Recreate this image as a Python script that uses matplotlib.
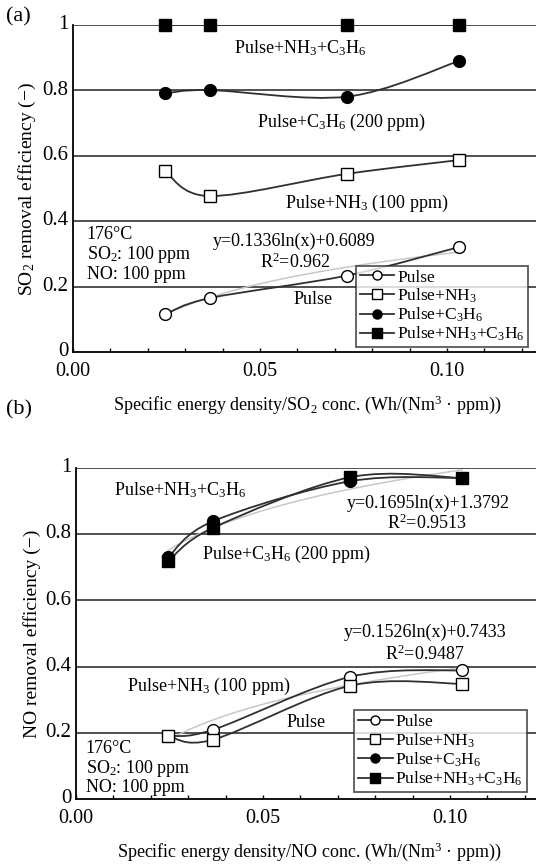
import numpy as np
import matplotlib
matplotlib.use("Agg")
import matplotlib.pyplot as plt
from matplotlib.path import Path
from matplotlib.patches import PathPatch
from matplotlib.lines import Line2D
from matplotlib.ticker import MultipleLocator, FuncFormatter
from matplotlib.transforms import ScaledTranslation

plt.rcParams["font.family"] = ["Liberation Serif", "DejaVu Serif"]
plt.rcParams["mathtext.fontset"] = "custom"
plt.rcParams["mathtext.rm"] = "Liberation Serif"
plt.rcParams["mathtext.it"] = "Liberation Serif:italic"
plt.rcParams["mathtext.bf"] = "Liberation Serif:bold"

# specific energy density / inlet conc. (same for both panels)
energy = [0.0246, 0.0366, 0.0733, 0.1032]

# (a) SO2 removal efficiency
so2_pulse = [0.115, 0.165, 0.234, 0.321]
so2_nh3 = [0.553, 0.477, 0.545, 0.587]
so2_c3h6 = [0.791, 0.801, 0.781, 0.890]
so2_nh3_c3h6 = [1.0, 1.0, 1.0, 1.0]
so2_fit = (0.1336, 0.6089)

# (b) NO removal efficiency
no_pulse = [0.191, 0.209, 0.369, 0.389]
no_nh3 = [0.191, 0.179, 0.342, 0.348]
no_c3h6 = [0.730, 0.839, 0.960, 0.970]
no_nh3_c3h6 = [0.718, 0.819, 0.972, 0.970]
no_fit_c3h6 = (0.1695, 1.3792)
no_fit_pulse = (0.1526, 0.7433)

series_names = ["Pulse", "Pulse+NH$_3$", "Pulse+C$_3$H$_6$",
                "Pulse+NH$_3$+C$_3$H$_6$"]
series_style = [
    dict(marker="o", mfc="white", ms=8.5),
    dict(marker="s", mfc="white", ms=8.5),
    dict(marker="o", mfc="black", ms=8.5),
    dict(marker="s", mfc="black", ms=8.5),
]

LINE_COLOR = "#303030"
FIT_COLOR = "#c8c8c8"
TXT = 13


def smooth_path(x, y):
    # spreadsheet-style smoothed line: cubic Bezier segments through points
    pts = np.column_stack([x, y]).astype(float)
    ext = np.vstack([pts[0], pts, pts[-1]])
    verts = [pts[0]]
    codes = [Path.MOVETO]
    for i in range(len(pts) - 1):
        p0, p1, p2, p3 = ext[i], ext[i + 1], ext[i + 2], ext[i + 3]
        verts += [p1 + (p2 - p0) / 6, p2 - (p3 - p1) / 6, p2]
        codes += [Path.CURVE4] * 3
    return Path(verts, codes)


def draw_series(ax, y, style):
    ax.add_patch(PathPatch(smooth_path(energy, y), fc="none",
                           ec=LINE_COLOR, lw=1.3, zorder=3))
    ax.plot(energy, y, ls="none", mec="black", mew=1.0, zorder=4,
            clip_on=False, **style)


def draw_fit(ax, coef):
    xs = np.linspace(energy[0], energy[-1], 80)
    ax.plot(xs, coef[0] * np.log(xs) + coef[1], color=FIT_COLOR,
            lw=1.1, zorder=2)


def setup_axes(ax, ylabel, xlabel):
    ax.set_xlim(0, 0.125)
    ax.set_ylim(0, 1)
    for yv in [0.2, 0.4, 0.6, 0.8, 1.0]:
        ax.axhline(yv, color="#202020", lw=1.1, zorder=1)
    for side in ["top", "right"]:
        ax.spines[side].set_visible(False)
    ax.spines["left"].set_linewidth(1.3)
    ax.spines["bottom"].set_linewidth(1.3)
    ax.xaxis.set_major_locator(MultipleLocator(0.05))
    ax.xaxis.set_minor_locator(MultipleLocator(0.01))
    ax.xaxis.set_major_formatter(FuncFormatter(lambda v, p: f"{v:.2f}"))
    ax.yaxis.set_major_locator(MultipleLocator(0.2))
    ax.yaxis.set_major_formatter(FuncFormatter(lambda v, p: f"{v:g}"))
    ax.tick_params(axis="x", which="both", direction="in", length=3,
                   width=1, labelsize=14.5, pad=7)
    ax.tick_params(axis="y", length=0, labelsize=15, pad=3.5)
    # nudge y tick labels up a touch so "0" clears the x labels
    shift = ScaledTranslation(0, 2 / 72, fig.dpi_scale_trans)
    for lab in ax.get_yticklabels():
        lab.set_transform(lab.get_transform() + shift)
    ax.set_ylabel(ylabel, fontsize=TXT + 1, labelpad=3)
    ax.set_xlabel(xlabel, fontsize=TXT, labelpad=9)


def add_legend(ax, anchor):
    handles = [Line2D([], [], color=LINE_COLOR, lw=1.3, mec="black",
                      mew=1.0, **dict(st, ms=6.5))
               for st in series_style]
    leg = ax.legend(handles, series_names, loc="lower left",
                    bbox_to_anchor=anchor, fontsize=12.5, frameon=True,
                    fancybox=False, handlelength=2.0, handletextpad=0.15,
                    labelspacing=0.05, borderpad=0.22, borderaxespad=0)
    leg.get_frame().set_edgecolor("#303030")
    leg.get_frame().set_linewidth(1.3)
    leg.set_zorder(6)


fig = plt.figure(figsize=(5.36, 8.66), dpi=100)

# ---- (a) SO2 ----
ax1 = fig.add_axes([0.1362, 0.5935, 0.8722, 0.3776])
setup_axes(ax1, "SO$_2$ removal efficiency (−)",
           "Specific energy density/SO$_2$ conc. (Wh/(Nm$^3$ · ppm))")
draw_fit(ax1, so2_fit)
for ys, st in zip([so2_pulse, so2_nh3, so2_c3h6, so2_nh3_c3h6], series_style):
    draw_series(ax1, ys, st)

ax1.text(0.0607, 0.930, "Pulse+NH$_3$+C$_3$H$_6$", fontsize=TXT,
         ha="center", va="center")
ax1.text(0.0717, 0.703, "Pulse+C$_3$H$_6$ (200 ppm)", fontsize=TXT,
         ha="center", va="center")
ax1.text(0.0786, 0.453, "Pulse+NH$_3$ (100 ppm)", fontsize=TXT,
         ha="center", va="center")
ax1.text(0.0591, 0.339, "y=0.1336ln(x)+0.6089", fontsize=TXT,
         ha="center", va="center")
ax1.text(0.0593, 0.275, "R$^2$=0.962", fontsize=TXT, ha="center",
         va="center")
ax1.text(0.0642, 0.162, "Pulse", fontsize=TXT, ha="center", va="center")
ax1.text(0.0037, 0.385, "176°C\nSO$_2$: 100 ppm\nNO: 100 ppm",
         fontsize=TXT, ha="left", va="top", linespacing=1.05)
add_legend(ax1, (0.605, 0.015))
fig.text(0.012, 0.981, "(a)", fontsize=TXT + 3, ha="left", va="center")

# ---- (b) NO ----
ax2 = fig.add_axes([0.1418, 0.0774, 0.8722, 0.3822])
setup_axes(ax2, "NO removal efficiency (−)",
           "Specific energy density/NO conc. (Wh/(Nm$^3$ · ppm))")
draw_fit(ax2, no_fit_c3h6)
draw_fit(ax2, no_fit_pulse)
for ys, st in zip([no_pulse, no_nh3, no_c3h6, no_nh3_c3h6], series_style):
    draw_series(ax2, ys, st)

ax2.text(0.0278, 0.934, "Pulse+NH$_3$+C$_3$H$_6$", fontsize=TXT,
         ha="center", va="center")
ax2.text(0.0941, 0.894, "y=0.1695ln(x)+1.3792", fontsize=TXT,
         ha="center", va="center")
ax2.text(0.0939, 0.834, "R$^2$=0.9513", fontsize=TXT, ha="center",
         va="center")
ax2.text(0.0564, 0.740, "Pulse+C$_3$H$_6$ (200 ppm)", fontsize=TXT,
         ha="center", va="center")
ax2.text(0.0933, 0.502, "y=0.1526ln(x)+0.7433", fontsize=TXT,
         ha="center", va="center")
ax2.text(0.0933, 0.438, "R$^2$=0.9487", fontsize=TXT, ha="center",
         va="center")
ax2.text(0.0356, 0.341, "Pulse+NH$_3$ (100 ppm)", fontsize=TXT,
         ha="center", va="center")
ax2.text(0.0615, 0.230, "Pulse", fontsize=TXT, ha="center", va="center")
ax2.text(0.0026, 0.178, "176°C\nSO$_2$: 100 ppm\nNO: 100 ppm",
         fontsize=TXT, ha="left", va="top", linespacing=1.05)
add_legend(ax2, (0.595, 0.021))
fig.text(0.012, 0.527, "(b)", fontsize=TXT + 3, ha="left", va="center")

fig.savefig("out.png", dpi=100)
